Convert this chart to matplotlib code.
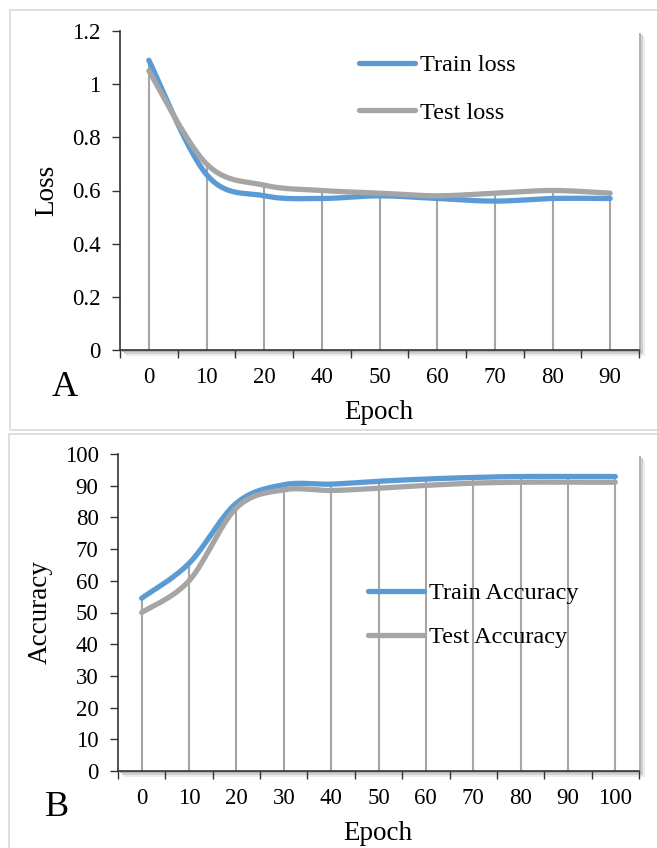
import numpy as np
import matplotlib.pyplot as plt
from matplotlib.patches import Rectangle
from matplotlib.ticker import FixedLocator, NullFormatter, FixedFormatter

plt.rcParams['font.family'] = ['Liberation Serif', 'DejaVu Serif']

# data
loss_epochs = ['0', '10', '20', '40', '50', '60', '70', '80', '90']
train_loss = [1.09, 0.66, 0.58, 0.57, 0.58, 0.57, 0.56, 0.57, 0.57]
test_loss = [1.05, 0.70, 0.62, 0.60, 0.59, 0.58, 0.59, 0.60, 0.59]

acc_epochs = ['0', '10', '20', '30', '40', '50', '60', '70', '80', '90', '100']
train_acc = [54.5, 65.5, 84.5, 90.3, 90.5, 91.4, 92.1, 92.6, 92.9, 92.9, 92.9]
test_acc = [50.0, 60.0, 83.0, 88.7, 88.5, 89.2, 90.1, 90.8, 91.1, 91.1, 91.1]

BLUE = '#5B9BD5'
GRAY = '#A5A5A5'
W, H = 657, 848


def fx(x):
    return x / W


def fy(y):
    return 1 - y / H


def smooth(y, n=40):
    # Catmull-Rom through the points, like Excel's smoothed line
    p = np.column_stack([np.arange(len(y)), np.asarray(y, float)])
    p = np.vstack([p[0], p, p[-1]])
    out = []
    for i in range(1, len(p) - 2):
        p0, p1, p2, p3 = p[i - 1], p[i], p[i + 1], p[i + 2]
        t = np.linspace(0, 1, n)[:, None]
        seg = 0.5 * (2 * p1 + (-p0 + p2) * t + (2 * p0 - 5 * p1 + 4 * p2 - p3) * t**2
                     + (-p0 + 3 * p1 - 3 * p2 + p3) * t**3)
        out.append(seg)
    out = np.vstack(out)
    return out[:, 0], out[:, 1]


def panel(ax, cats, s1, s2, names, ymax, ystep, yfmt):
    n = len(cats)
    x = np.arange(n)
    top = np.maximum(s1, s2)
    ax.vlines(x, 0, top, color=GRAY, lw=1.5, zorder=1)
    xs, ys = smooth(s1)
    ax.plot(xs, ys, color=BLUE, lw=3.8, solid_capstyle='round', label=names[0], zorder=3)
    xs, ys = smooth(s2)
    ax.plot(xs, ys, color=GRAY, lw=3.8, solid_capstyle='round', label=names[1], zorder=4)
    ax.set_xlim(-0.5, n - 0.5)
    ax.set_ylim(0, ymax)
    yt = np.arange(0, ymax + ystep / 2, ystep)
    ax.set_yticks(yt)
    ax.set_yticklabels([yfmt(v) for v in yt])
    ax.xaxis.set_major_locator(FixedLocator(np.arange(-0.5, n, 1.0)))
    ax.xaxis.set_major_formatter(NullFormatter())
    ax.xaxis.set_minor_locator(FixedLocator(x))
    ax.xaxis.set_minor_formatter(FixedFormatter(cats))
    ax.tick_params(axis='x', which='major', direction='out', length=6, width=1, color='#333333')
    ax.tick_params(axis='x', which='minor', length=0, pad=12, labelsize=16.5)
    ax.tick_params(axis='y', direction='out', length=6, width=1, pad=8, labelsize=16.5, color='#333333')
    for s in ['top', 'right']:
        ax.spines[s].set_visible(False)
    for s in ['left', 'bottom']:
        ax.spines[s].set_color('#333333')
        ax.spines[s].set_linewidth(1.2)
    ax.set_facecolor('white')


fig = plt.figure(figsize=(6.57, 8.48), dpi=100)

# panel frames
fig.patches.append(Rectangle((fx(10), fy(430)), 1.2, fy(10) - fy(430), transform=fig.transFigure,
                             fill=False, ec='#d9d9d9', lw=1.2, zorder=0))
fig.patches.append(Rectangle((fx(9), -0.1), 1.2, fy(434) + 0.1, transform=fig.transFigure,
                             fill=False, ec='#d9d9d9', lw=1.2, zorder=0))

# plot area boxes in pixels: left, top, right, bottom
boxA = (120, 31, 639, 350)
boxB = (118, 454, 639, 771)

axes = []
for b in (boxA, boxB):
    l, t, r, bt = b
    # soft shadow behind the plot area
    for off, col in ((6, '#ececec'), (4, '#cfcfcf'), (2, '#b3b3b3')):
        fig.patches.append(Rectangle((fx(l + off), fy(bt + off)), fx(r) - fx(l), fy(t) - fy(bt),
                                     transform=fig.transFigure, fc=col, ec='none', zorder=0.5))
    ax = fig.add_axes([fx(l), fy(bt), fx(r) - fx(l), fy(t) - fy(bt)])
    ax.set_zorder(2)
    axes.append(ax)

axA, axB = axes


def fmt_loss(v):
    return '%g' % round(v, 1)


panel(axA, loss_epochs, train_loss, test_loss, ['Train loss', 'Test loss'], 1.2, 0.2, fmt_loss)
panel(axB, acc_epochs, train_acc, test_acc, ['Train Accuracy', 'Test Accuracy'], 100, 10,
      lambda v: '%d' % v)

axA.legend(loc='upper left', bbox_to_anchor=(fx(359), fy(54)), bbox_transform=fig.transFigure,
           frameon=False, fontsize=17.5, handlelength=2.3, handletextpad=0.2,
           labelspacing=1.05, borderpad=0, borderaxespad=0)
axB.legend(loc='upper left', bbox_to_anchor=(fx(368), fy(582)), bbox_transform=fig.transFigure,
           frameon=False, fontsize=17.5, handlelength=2.3, handletextpad=0.2,
           labelspacing=0.92, borderpad=0, borderaxespad=0)

# axis titles and panel letters
fig.text(fx(47), fy(190), 'Loss', rotation=90, fontsize=19.5, ha='center', va='center')
fig.text(fx(379), fy(412), 'Epoch', fontsize=19.5, ha='center', va='center')
fig.text(fx(65), fy(387), 'A', fontsize=26, ha='center', va='center')

fig.text(fx(40), fy(612), 'Accuracy', rotation=90, fontsize=19.5, ha='center', va='center')
fig.text(fx(378), fy(833), 'Epoch', fontsize=19.5, ha='center', va='center')
fig.text(fx(57), fy(808), 'B', fontsize=26, ha='center', va='center')

fig.savefig('out.png', dpi=100)
